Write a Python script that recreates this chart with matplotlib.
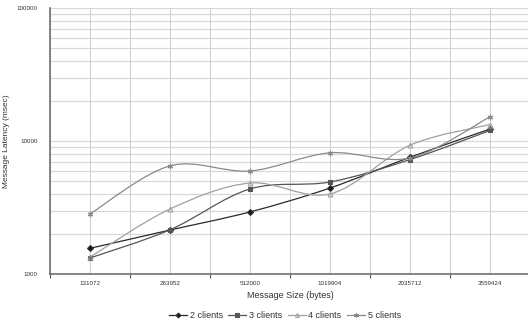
import numpy as np
import matplotlib
matplotlib.use("Agg")
from matplotlib import pyplot as plt
from matplotlib.path import Path
from matplotlib.patches import PathPatch
from matplotlib.lines import Line2D

plt.rcParams["font.family"] = ["Liberation Sans", "DejaVu Sans"]

sizes = ["131072", "263952", "512000", "1019904", "2035712", "3559424"]
clients_2 = [1560, 2140, 2930, 4430, 7550, 12300]
clients_3 = [1320, 2150, 4360, 4920, 7250, 12000]
clients_4 = [1340, 3080, 4830, 4000, 9300, 13300]
clients_5 = [2830, 6500, 5950, 8150, 7450, 15200]

series = [
    ("2 clients", clients_2, "#2a2a2a", "D", "#1a1a1a", 3.0),
    ("3 clients", clients_3, "#555555", "s", "#555555", 3.0),
    ("4 clients", clients_4, "#a0a0a0", "^", "none", 3.5),
    ("5 clients", clients_5, "#8a8a8a", (6, 2, 0), "#777777", 4.0),
]


def smooth_path(vals):
    # catmull-rom style bezier through the points in (index, log10) space
    x = np.arange(len(vals), dtype=float)
    y = np.log10(vals)
    pts = np.column_stack([x, y])
    verts = [pts[0]]
    codes = [Path.MOVETO]
    n = len(pts)
    for i in range(n - 1):
        p0 = pts[i - 1] if i > 0 else pts[i]
        p1 = pts[i]
        p2 = pts[i + 1]
        p3 = pts[i + 2] if i + 2 < n else pts[i + 1]
        c1 = p1 + (p2 - p0) / 6.0
        c2 = p2 - (p3 - p1) / 6.0
        verts += [c1, c2, p2]
        codes += [Path.CURVE4] * 3
    verts = np.array(verts)
    verts[:, 1] = 10 ** verts[:, 1]
    return Path(verts, codes)


fig = plt.figure(figsize=(5.28, 3.24), dpi=100)
ax = fig.add_axes([50 / 528, 1 - 274 / 324, 480 / 528, 266 / 324])
ax.set_yscale("log")
ax.set_ylim(1000, 100000)
ax.set_xlim(-0.5, len(sizes) - 0.5)

xs = np.arange(len(sizes))
for label, vals, color, marker, mfc, ms in series:
    ax.add_patch(PathPatch(smooth_path(vals), facecolor="none",
                           edgecolor=color, lw=0.9, zorder=3))
    ax.plot(xs, vals, linestyle="none", marker=marker, color=color,
            markerfacecolor=mfc, markeredgecolor=color, markersize=ms,
            markeredgewidth=0.8, zorder=4)

# grid
ax.set_xticks(xs)
ax.set_xticklabels(sizes, fontsize=4.5, color="#333333")
ax.set_xticks(np.arange(-0.5, len(sizes), 1.0), minor=True)
ax.tick_params(axis="x", which="major", length=0, pad=5)
ax.tick_params(axis="x", which="minor", length=3, color="#555555", width=0.8)
ax.grid(True, axis="x", which="both", color="#d0d0d0", lw=0.8)

ax.set_yticks([1000, 10000, 100000])
ax.set_yticklabels(["1000", "10000", "100000"], fontsize=4.5, color="#333333")
ax.tick_params(axis="y", which="major", length=0, pad=9)
ax.tick_params(axis="y", which="minor", length=0, labelleft=False)
ax.grid(True, axis="y", which="both", color="#d8d8d8", lw=0.9)
ax.set_axisbelow(True)

for s in ["top", "right"]:
    ax.spines[s].set_visible(False)
for s in ["left", "bottom"]:
    ax.spines[s].set_color("#707070")
    ax.spines[s].set_linewidth(1.2)

ax.set_ylabel("Message Latency (msec)", fontsize=6, color="#333333")
ax.yaxis.set_label_coords(-0.083, 0.5)
ax.set_xlabel("Message Size (bytes)", fontsize=6.5, color="#333333", labelpad=4)

handles = [Line2D([], [], color=c, marker=m, markerfacecolor=f,
                  markeredgecolor=c, markersize=ms * 0.8, lw=0.9,
                  markeredgewidth=0.8)
           for _, _, c, m, f, ms in series]
fig.legend(handles, [s[0] for s in series], loc="center",
           bbox_to_anchor=(285 / 528, 1 - 316 / 324), ncol=4, frameon=False,
           fontsize=6.5, handlelength=2.0, handletextpad=0.3,
           columnspacing=0.6, labelcolor="#333333")

fig.savefig("out.png", dpi=100)
